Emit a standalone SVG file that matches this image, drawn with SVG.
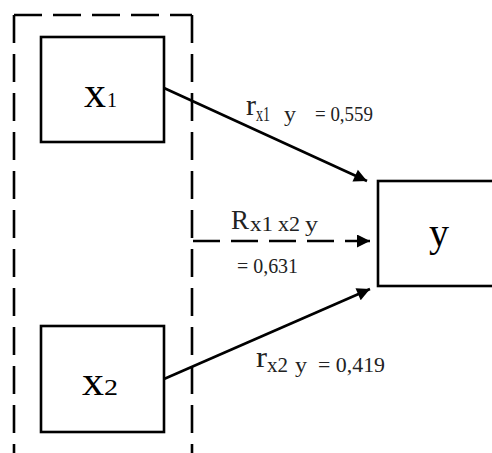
<svg xmlns="http://www.w3.org/2000/svg" width="492" height="453" viewBox="0 0 492 453">
<style>
.box{fill:#fff;stroke:#000;stroke-width:2.6}
.ln{stroke:#000;stroke-width:2.6;fill:none}
.dash{stroke:#000;stroke-width:2.6;fill:none;stroke-dasharray:28 11}
text{font-family:"Liberation Serif","Times New Roman",serif;fill:#000}
.lbl{fill:#222}
</style>
<defs>
<marker id="ah" viewBox="0 0 10 10" refX="10" refY="5" markerWidth="6" markerHeight="5" markerUnits="strokeWidth" orient="auto">
<path d="M0,0 L10,5 L0,10 z" fill="#000"/>
</marker>
</defs>
<g id="group-border">
<line class="dash" x1="14" y1="15" x2="192" y2="15"/>
<line class="dash" x1="14" y1="15" x2="14" y2="453"/>
<line class="dash" x1="192" y1="15" x2="192" y2="453"/>
</g>
<g id="connectors">
<line class="ln" x1="164" y1="88" x2="367" y2="181" marker-end="url(#ah)"/>
<line class="ln" x1="164" y1="379" x2="370" y2="289" marker-end="url(#ah)"/>
<line class="ln" x1="193" y1="241" x2="370" y2="241" stroke-dasharray="27 11" marker-end="url(#ah)"/>
</g>
<g id="x1">
<rect class="box" x="41" y="37" width="123" height="105"/>
<text x="84" y="107" font-size="44" textLength="22" lengthAdjust="spacingAndGlyphs">x</text>
<text x="107" y="107" font-size="22" textLength="10" lengthAdjust="spacingAndGlyphs">1</text>
</g>
<g id="x2">
<rect class="box" x="41" y="326" width="123" height="106"/>
<text x="82" y="395" font-size="42" textLength="22" lengthAdjust="spacingAndGlyphs">x</text>
<text x="104" y="395" font-size="24" textLength="14" lengthAdjust="spacingAndGlyphs">2</text>
</g>
<g id="y">
<rect class="box" x="378" y="181" width="116" height="105"/>
<text x="429" y="246" font-size="40">y</text>
</g>
<g id="labels">
<text class="lbl" x="246" y="115" font-size="30" textLength="10" lengthAdjust="spacingAndGlyphs">r</text>
<text class="lbl" x="256" y="121" font-size="22" textLength="14" lengthAdjust="spacingAndGlyphs">x1</text>
<text class="lbl" x="284" y="121" font-size="22" textLength="12" lengthAdjust="spacingAndGlyphs">y</text>
<text class="lbl" x="315" y="121" font-size="20" textLength="58" lengthAdjust="spacingAndGlyphs">= 0,559</text>
<text class="lbl" x="231" y="229" font-size="28" textLength="18" lengthAdjust="spacingAndGlyphs">R</text>
<text class="lbl" x="250" y="231" font-size="21" textLength="23" lengthAdjust="spacingAndGlyphs">x1</text>
<text class="lbl" x="278" y="231" font-size="21" textLength="22" lengthAdjust="spacingAndGlyphs">x2</text>
<text class="lbl" x="305" y="231" font-size="21" textLength="13" lengthAdjust="spacingAndGlyphs">y</text>
<text class="lbl" x="237" y="273" font-size="21" textLength="61" lengthAdjust="spacingAndGlyphs">= 0,631</text>
<text class="lbl" x="256" y="367" font-size="30" textLength="11" lengthAdjust="spacingAndGlyphs">r</text>
<text class="lbl" x="267" y="372" font-size="22" textLength="21" lengthAdjust="spacingAndGlyphs">x2</text>
<text class="lbl" x="295" y="372" font-size="22" textLength="12" lengthAdjust="spacingAndGlyphs">y</text>
<text class="lbl" x="318" y="372" font-size="21" textLength="67" lengthAdjust="spacingAndGlyphs">= 0,419</text>
</g>
</svg>
